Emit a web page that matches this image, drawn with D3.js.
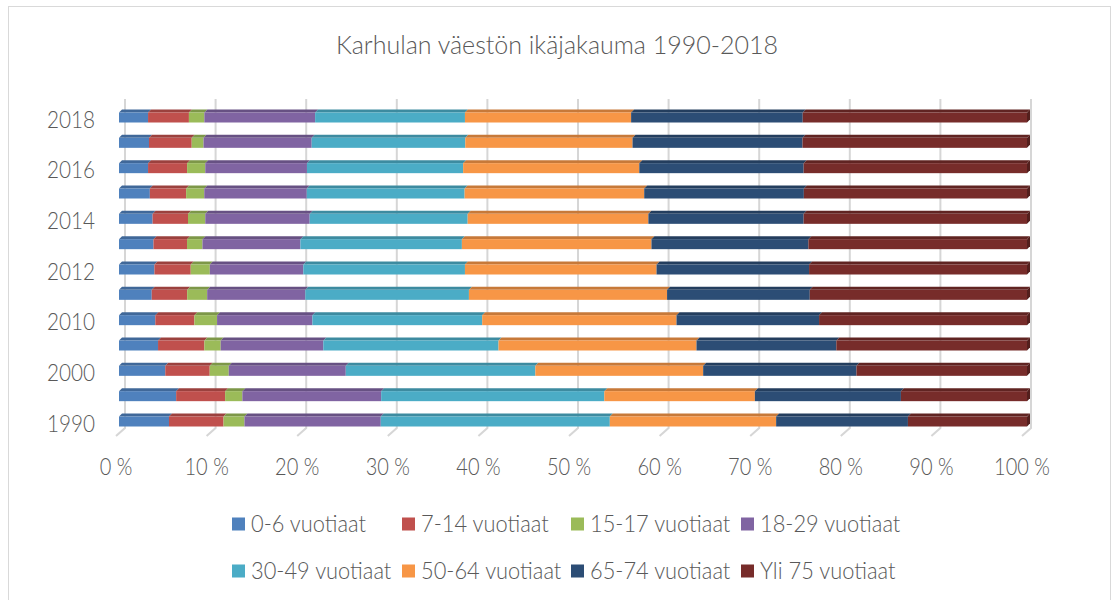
<!DOCTYPE html>
<html>
<head>
<meta charset="utf-8">
<script src="https://cdn.jsdelivr.net/npm/d3@7"></script>
<style>
  body { margin: 0; background: #fff; }
  text { font-family: Lato, "Open Sans", sans-serif; font-weight: 300; fill: #595959; }
</style>
</head>
<body>
<script>
// years, bottom to top in the chart
var years = ["1990", "1995", "2000", "2005", "2010", "2011", "2012", "2013", "2014", "2015", "2016", "2017", "2018"];
var shownYears = ["1990", "2000", "2010", "2012", "2014", "2016", "2018"];

var seriesNames = ["0-6 vuotiaat", "7-14 vuotiaat", "15-17 vuotiaat", "18-29 vuotiaat",
                   "30-49 vuotiaat", "50-64 vuotiaat", "65-74 vuotiaat", "Yli 75 vuotiaat"];
var seriesColors = ["#4F81BD", "#C0504D", "#9BBB59", "#8064A2", "#4BACC6", "#F79646", "#2C4D75", "#772C2A"];

// shares in %, same order as years
var age0_6   = [5.5, 6.3, 5.1, 4.3, 4.0, 3.6, 3.9, 3.8, 3.7, 3.4, 3.2, 3.3, 3.2];
var age7_14  = [6.0, 5.4, 4.9, 5.1, 4.3, 3.9, 4.0, 3.7, 3.9, 4.0, 4.3, 4.7, 4.5];
var age15_17 = [2.3, 1.9, 2.1, 1.8, 2.5, 2.2, 2.1, 1.7, 1.9, 2.0, 2.0, 1.3, 1.7];
var age18_29 = [15.0, 15.3, 12.9, 11.3, 10.5, 10.8, 10.3, 10.8, 11.5, 11.3, 11.2, 11.9, 12.2];
var age30_49 = [25.2, 24.6, 20.9, 19.3, 18.7, 18.0, 17.8, 17.8, 17.4, 17.4, 17.2, 16.9, 16.5];
var age50_64 = [18.3, 16.6, 18.5, 21.8, 21.4, 21.8, 21.1, 20.9, 19.9, 19.8, 19.4, 18.4, 18.3];
var age65_74 = [14.5, 16.1, 16.9, 15.4, 15.7, 15.7, 16.8, 17.3, 17.1, 17.6, 18.1, 18.7, 18.9];
var age75    = [13.1, 13.9, 18.8, 21.0, 22.9, 23.9, 24.0, 24.1, 24.6, 24.6, 24.6, 24.7, 24.7];

var xTicks = [0, 0.1, 0.2, 0.3, 0.4, 0.5, 0.6, 0.7, 0.8, 0.9, 1];

var allSeries = [age0_6, age7_14, age15_17, age18_29, age30_49, age50_64, age65_74, age75];
var rows = years.map(function(y, i) {
    var r = {year: y};
    seriesNames.forEach(function(s, j) { r[s] = allSeries[j][i]; });
    return r;
});

var W = 1113, H = 600;

var svg = d3.select("body").append("svg")
    .attr("width", W)
    .attr("height", H);

// chart border
svg.append("rect")
    .attr("x", 8.5).attr("y", 6.5)
    .attr("width", 1102).attr("height", 600)
    .attr("fill", "none")
    .attr("stroke", "#D9D9D9");

// text in the picture is narrow, so squeeze it a bit
function label(g, x, y, txt, size, anchor, sq) {
    return g.append("text")
        .attr("transform", "translate(" + x + "," + y + ") scale(" + (sq || 0.87) + ",1)")
        .attr("text-anchor", anchor || "middle")
        .attr("dy", "0.35em")
        .style("font-size", size + "px")
        .text(txt);
}

label(svg, 557, 45, "Karhulan väestön ikäjakauma 1990-2018", 25, "middle", 1);

// 3d-ish geometry: back wall scale and front face scale
var xBack = d3.scaleLinear().domain([0, 1]).range([125, 1031]);
var xFront = d3.scaleLinear().domain([0, 1]).range([119, 1027]);
var y = d3.scalePoint().domain(years.slice().reverse()).range([117.5, 421.5]);
var wallTop = 99, wallBottom = 428, depthX = 9, depthY = 8;
var faceH = 10, topH = 3, topShift = 3;

// gridlines
var grid = svg.append("g").attr("class", "grid");
grid.selectAll("path")
    .data(xTicks)
    .enter().append("path")
    .attr("d", function(d) {
        var xb = xBack(d);
        return "M" + xb + "," + wallTop + "V" + wallBottom + "L" + (xb - depthX) + "," + (wallBottom + depthY);
    })
    .attr("fill", "none")
    .attr("stroke", "#D6D6D6")
    .attr("stroke-width", 2);

// x tick labels
var xl = svg.append("g").attr("class", "x axis");
xTicks.forEach(function(t) {
    label(xl, xBack(t) - depthX, 467, d3.format(".0%")(t).replace("%", " %"), 23);
});

// y tick labels
var yl = svg.append("g").attr("class", "y axis");
shownYears.forEach(function(yr) {
    label(yl, 95, y(yr) + 2, yr, 23, "end", 0.9);
});

var stack = d3.stack().keys(seriesNames).offset(d3.stackOffsetExpand);
var layers = stack(rows);

var bars = svg.append("g").attr("class", "bars");
var layer = bars.selectAll("g.layer")
    .data(layers)
    .enter().append("g")
    .attr("class", "layer");

// top face
layer.selectAll("path.top")
    .data(function(d) { return d.map(function(p) { return {p: p, key: d.key}; }); })
    .enter().append("path")
    .attr("class", "top")
    .attr("d", function(d) {
        var x0 = xFront(d.p[0]), x1 = xFront(d.p[1]), c = y(d.p.data.year);
        return "M" + x0 + "," + (c - faceH / 2) + "L" + (x0 + topShift) + "," + (c - faceH / 2 - topH) +
            "L" + (x1 + topShift) + "," + (c - faceH / 2 - topH) + "L" + x1 + "," + (c - faceH / 2) + "Z";
    })
    .attr("fill", function(d) { return d3.color(seriesColors[seriesNames.indexOf(d.key)]).darker(0.6); });

// front face
layer.selectAll("rect")
    .data(function(d) { return d.map(function(p) { return {p: p, key: d.key}; }); })
    .enter().append("rect")
    .attr("x", function(d) { return xFront(d.p[0]); })
    .attr("y", function(d) { return y(d.p.data.year) - faceH / 2; })
    .attr("width", function(d) { return xFront(d.p[1]) - xFront(d.p[0]); })
    .attr("height", faceH)
    .attr("fill", function(d) { return seriesColors[seriesNames.indexOf(d.key)]; });

// right side of the last segment
var last = layers[layers.length - 1];
bars.append("g").selectAll("path")
    .data(last)
    .enter().append("path")
    .attr("d", function(p) {
        var x1 = xFront(p[1]), c = y(p.data.year);
        return "M" + x1 + "," + (c - faceH / 2) + "L" + (x1 + topShift) + "," + (c - faceH / 2 - topH) +
            "L" + (x1 + topShift) + "," + (c + faceH / 2 - topH) + "L" + x1 + "," + (c + faceH / 2) + "Z";
    })
    .attr("fill", d3.color(seriesColors[7]).darker(1));

// legend
var legCols = [232, 402, 571, 741];
var legRows = [524, 571];
var legend = svg.append("g").attr("class", "legend");
seriesNames.forEach(function(s, i) {
    var lx = legCols[i % 4], ly = legRows[Math.floor(i / 4)];
    legend.append("rect")
        .attr("x", lx).attr("y", ly - 6.5)
        .attr("width", 13).attr("height", 13)
        .attr("fill", seriesColors[i]);
    label(legend, lx + 19, ly, s, 23, "start", 0.95);
});
</script>
</body>
</html>
